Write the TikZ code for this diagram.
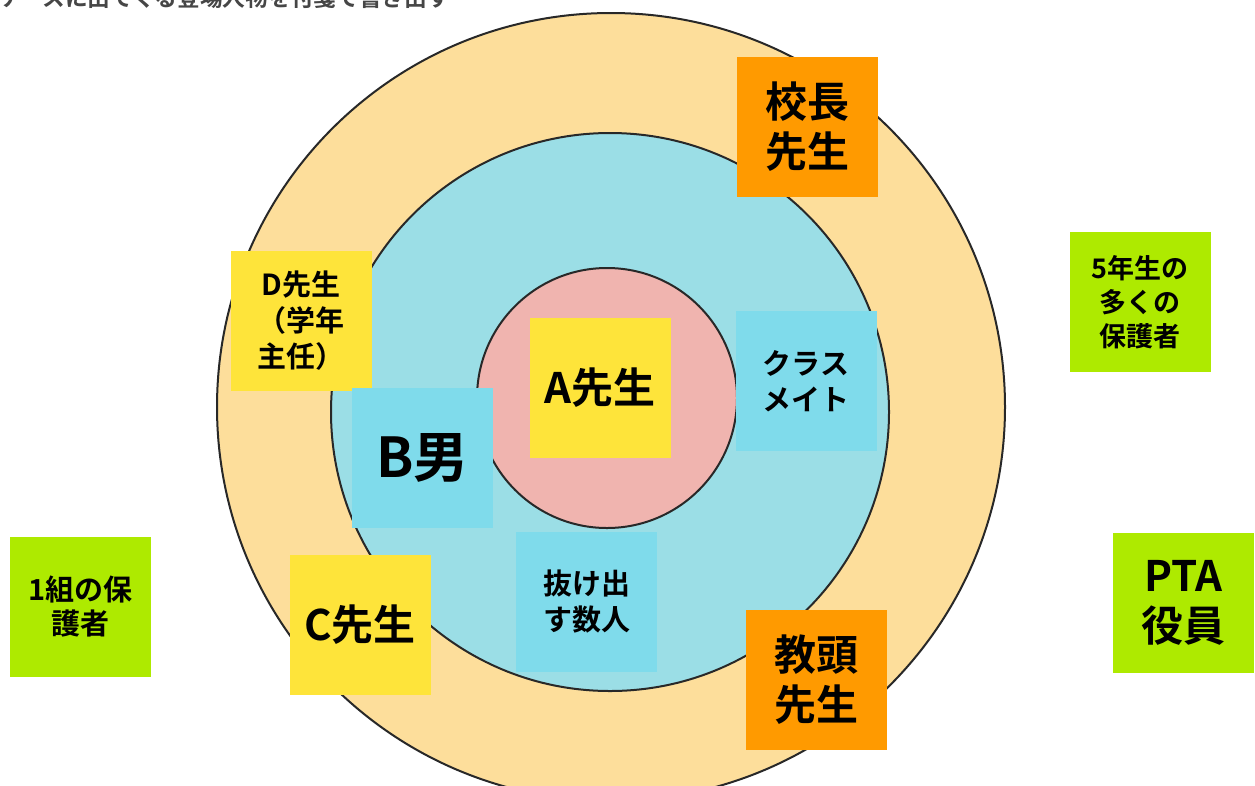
\documentclass[tikz,border=0pt]{standalone}
\usepackage{fontspec}
\setmainfont{Noto Sans CJK JP}[BoldFont={Noto Sans CJK JP Bold}]
\definecolor{outerc}{RGB}{253,222,155}
\definecolor{midc}{RGB}{155,222,230}
\definecolor{innerc}{RGB}{240,180,175}
\definecolor{yel}{RGB}{254,228,58}
\definecolor{cya}{RGB}{127,219,235}
\definecolor{ora}{RGB}{255,154,0}
\definecolor{grn}{RGB}{174,234,0}
\definecolor{ring}{RGB}{40,40,40}
\definecolor{toptext}{RGB}{70,70,70}
\tikzset{
  note/.style={minimum width=141pt, minimum height=140pt, inner sep=0pt, align=center, font=\bfseries, text=black},
  ringc/.style={draw=ring, line width=2pt},
  fbig/.style={font=\bfseries\fontsize{42}{50}\selectfont},
  fmid/.style={font=\bfseries\fontsize{29}{36}\selectfont},
  fsm/.style={font=\bfseries\fontsize{27}{34}\selectfont},
}
\begin{document}
\begin{tikzpicture}[x=1pt,y=-1pt]
\path[use as bounding box] (0,0) rectangle (1255,785);
\clip (0,0) rectangle (1255,785);
\fill[white] (0,0) rectangle (1255,785);
\node[anchor=base west, inner sep=0pt, text=toptext, font=\bfseries\fontsize{22.7}{26}\selectfont] (title) at (-2,6) {ケースに出てくる登場人物を付箋で書き出す};
\path[ringc, fill=outerc] (611,407) circle[radius=394pt];
\path[ringc, fill=midc] (610,412) circle[radius=279pt];
\path[ringc, fill=innerc] (607,398) circle[radius=130pt];
\node[note, fill=ora, fbig] (kocho) at (807.5,127) {校長\\先生};
\node[note, fill=yel, fmid] (dsensei) at (301,321) {D先生\\（学年\\主任）};
\node[note, fill=cya, font=\bfseries\fontsize{55}{60}\selectfont] (bo) at (422.5,458) {B男};
\node[note, fill=yel, fbig] (asensei) at (600,388) {A先生};
\node[note, fill=cya, fmid] (classmate) at (806,381) {クラス\\メイト};
\node[note, fill=cya, fmid] (nukedasu) at (586.5,602) {抜け出\\す数人};
\node[note, fill=yel, fbig] (csensei) at (360,625) {C先生};
\node[note, fill=ora, fbig] (kyoto) at (816,679.5) {教頭\\先生};
\node[note, fill=grn, fsm] (gonen) at (1140,302) {5年生の\\多くの\\保護者};
\node[note, fill=grn, font=\bfseries\fontsize{29}{34}\selectfont] (ichikumi) at (80.5,607) {1組の保\\護者};
\node[note, fill=grn, fbig] (pta) at (1183.5,603) {PTA\\役員};
\end{tikzpicture}
\end{document}
